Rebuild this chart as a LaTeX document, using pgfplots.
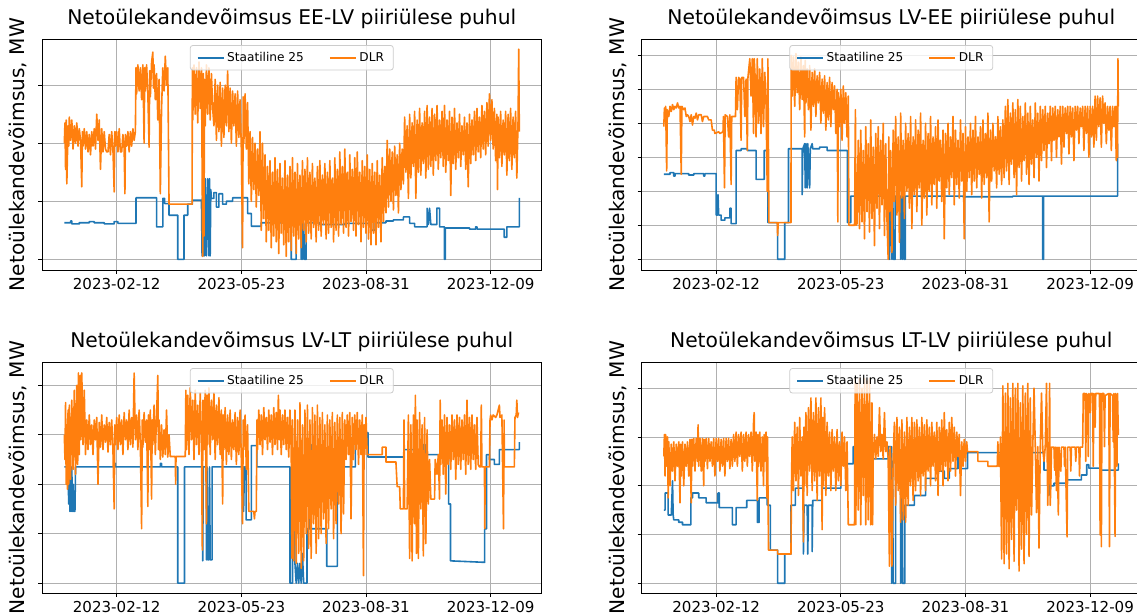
\documentclass[border=0pt]{standalone}
\usepackage{fontspec}
\setmainfont{DejaVu Sans}
\usepackage{pgfplots}
\usepackage{pgfplotstable}
\pgfplotsset{compat=1.18}

\definecolor{mplblue}{HTML}{1F77B4}
\definecolor{mplorange}{HTML}{FF7F0E}
\definecolor{gridgray}{HTML}{B0B0B0}
\definecolor{legedge}{HTML}{CCCCCC}

% x = days since 2023-01-01; y in units of the (unlabelled) y grid step

% ---------- EE-LV ----------
\pgfplotstableread[row sep=\\]{x y\\
0 0.63\\ 5 0.63\\ 5 0.66\\ 6 0.66\\ 6 0.61\\ 12 0.61\\ 12 0.63\\ 20 0.63\\ 20 0.65\\ 24 0.65\\ 24 0.63\\ 32 0.63\\ 32 0.61\\ 40 0.61\\ 40 0.65\\ 43 0.65\\ 43 0.62\\
57.5 0.62\\ 57.5 1.06\\ 74 1.06\\ 74 0.56\\ 79 0.56\\ 79 1.05\\ 80.5 1.05\\ 80.5 0.96\\ 84 0.96\\ 84 0.76\\ 91 0.76\\ 91 0\\ 96 0\\ 96 0.76\\ 99 0.76\\ 99 0.95\\
102.7 0.95\\ 102.7 1.02\\ 110 1.02\\ 110.5 0.06\\ 111 1.39\\ 111.5 0.06\\ 112 1.39\\ 112.5 0.06\\ 113 1.39\\ 114 0.06\\ 115 1.39\\ 116 0.06\\ 116.5 1.39\\ 117 0.06\\ 117.5 1.20\\
118 1.05\\ 120 1.05\\ 120 1.15\\ 122 1.15\\ 122 0.90\\ 124 0.90\\ 124 1.13\\ 127 1.13\\ 127 0.95\\ 130 0.95\\ 130 1.00\\ 135 1.00\\ 135 1.06\\ 147 1.06\\ 147 0.79\\ 150 0.79\\ 150 0.57\\ 158 0.57\\ 158 0.63\\
182 0.63\\ 182 0\\ 186 0\\ 186 0.63\\ 190 0.63\\ 190 0\\ 190.7 0.63\\ 191.3 0\\ 192 0.63\\ 192.7 0\\ 194 0\\ 194 0.63\\ 205 0.63\\ 205 0.60\\ 225 0.60\\ 225 0.62\\
246.5 0.62\\ 246.5 0.50\\ 249.4 0.50\\ 249.4 0.63\\ 258 0.63\\ 258 0.66\\ 264 0.66\\ 264 0.68\\ 272 0.68\\ 272 0.73\\ 277 0.73\\ 277 0.62\\ 281 0.62\\ 281 0.56\\
291 0.56\\ 291 0.88\\ 292 0.60\\ 293 0.88\\ 294 0.60\\ 298.8 0.60\\ 298.8 0.88\\ 301 0.88\\ 301 0.56\\ 304.9 0.56\\ 304.9 0\\ 305.6 0\\ 305.6 0.54\\
325 0.54\\ 325 0.52\\ 330 0.52\\ 330 0.56\\ 331 0.56\\ 331 0.52\\ 352.9 0.52\\ 352.9 0.38\\ 355 0.38\\ 355 0.56\\ 365 0.56\\ 365 1.06\\
}\eelvstat

\pgfplotstableread[row sep=\\]{x y\\
0 2.00\\ 0.5 2.35\\ 1 1.55\\ 1.5 2.40\\ 2 1.30\\ 3 2.30\\ 3.5 1.95\\ 4 2.45\\ 5 2.05\\ 6 2.40\\ 7 1.90\\ 8 2.30\\ 9 2.00\\ 10 2.35\\ 11 1.95\\ 12 2.25\\ 13 2.05\\ 14 1.25\\ 14.5 2.20\\
15 1.95\\ 16 2.25\\ 17 1.90\\ 18 2.20\\ 19 1.85\\ 20 2.15\\ 21 1.80\\ 22 2.20\\ 23 1.95\\ 24 2.25\\ 25 1.90\\ 26 2.50\\ 27 2.05\\ 28 2.40\\ 29 1.55\\ 30 2.25\\ 31 1.85\\ 32 2.20\\ 33 1.90\\
34 1.85\\ 35 1.85\\ 36 2.15\\ 37 1.80\\ 38 2.20\\ 39 1.90\\ 40 1.16\\ 40.5 2.20\\ 41 1.95\\ 42 2.20\\ 43 1.85\\ 44 2.25\\ 45 1.85\\ 46 1.85\\ 47 2.15\\ 48 1.90\\ 48.6 1.13\\ 49 2.15\\
50 1.95\\ 51 2.20\\ 52 1.85\\ 53 2.20\\ 54 1.95\\ 55 2.25\\ 56 2.05\\ 57 2.20\\ 57.5 3.30\\ 58 2.85\\ 59 3.35\\ 60 2.90\\ 61 3.30\\ 62 2.75\\ 63 3.35\\ 64 2.00\\ 64.5 3.30\\ 65 2.90\\ 66 3.35\\
67 2.85\\ 68 1.93\\ 68.5 3.25\\ 69 2.80\\ 70 3.40\\ 71 3.57\\ 71.5 2.95\\ 72 3.35\\ 73 2.75\\ 74 3.20\\ 75 2.40\\ 76 3.10\\ 77 1.13\\ 78 2.60\\ 79 3.30\\ 80 2.90\\ 81 3.50\\ 82 3.00\\ 83 3.30\\
84 0.95\\ 102.5 0.95\\ 102.7 3.30\\ 103 2.40\\ 104 3.35\\ 105 2.50\\ 106 3.30\\ 107 2.35\\ 108 3.40\\ 109 2.60\\ 110 3.30\\ 111 0.05\\ 111.5 3.20\\ 112 0.40\\ 112.5 3.10\\ 113 2.30\\
114 3.35\\ 115 2.50\\ 116 3.30\\ 117 2.40\\ 118 3.20\\ 119 2.60\\ 120 2.30\\ 121 3.10\\ 122 2.05\\ 123 3.00\\ 124 2.20\\ 125 3.05\\ 126 1.95\\ 127 2.95\\ 128 2.10\\ 129 3.00\\ 130 2.30\\
131 3.25\\ 132 2.20\\ 133 2.95\\ 134 2.00\\ 135 2.90\\ 136 2.30\\ 137 2.85\\ 138 1.95\\ 139 2.90\\ 140 2.10\\ 141 2.75\\ 142 1.90\\ 143 0.20\\ 143.5 2.80\\ 144 2.00\\ 145 2.85\\ 146 1.90\\
147 2.70\\ 148 1.30\\ 149 2.20\\ 150 1.00\\ 151 2.10\\ 152 1.20\\ 153 2.00\\ 154 0.90\\ 155 1.90\\ 156 1.10\\ 157 2.20\\ 158 0.50\\ 159 2.00\\ 160 0.70\\
161 1.80\\ 162 0.30\\ 163 1.60\\ 164 0.50\\ 165 1.70\\ 166 0.20\\ 167 1.50\\ 168 0.40\\ 169 1.75\\ 170 0.30\\ 171 1.55\\ 172 0.10\\ 173 1.65\\ 174 0.45\\ 175 1.40\\ 176 0.25\\ 177 1.70\\
178 0.05\\ 179 1.45\\ 180 0.30\\ 181 1.60\\ 182 0.15\\ 183 1.75\\ 184 0.40\\ 185 1.50\\ 186 0.10\\ 187 1.65\\ 188 0.35\\ 189 1.45\\ 190 0.20\\ 191 1.70\\ 192 0.50\\ 193 1.55\\ 194 0.30\\
195 1.75\\ 196 0.45\\ 197 1.50\\ 198 0.35\\ 199 1.65\\ 200 0.55\\ 201 1.40\\ 202 0.30\\ 203 1.60\\ 204 0.50\\ 205 1.70\\ 206 0.40\\ 207 1.45\\ 208 0.60\\ 209 1.65\\ 210 0.35\\ 211 1.50\\
212 0.45\\ 213 1.70\\ 214 0.55\\ 215 1.40\\ 216 0.30\\ 217 1.75\\ 218 0.50\\ 219 1.55\\ 220 0.40\\ 221 1.85\\ 222 0.60\\ 223 1.60\\ 224 0.45\\ 225 1.90\\ 226 0.55\\ 227 1.50\\ 228 0.40\\
229 1.80\\ 230 0.65\\ 231 1.55\\ 232 0.50\\ 233 1.75\\ 234 0.40\\ 235 1.85\\ 236 0.60\\ 237 1.50\\ 238 0.30\\ 239 1.70\\ 240 0.55\\ 241 1.60\\ 242 0.45\\ 243 1.80\\ 244 0.35\\ 245 1.55\\
246 0.25\\ 247 1.65\\ 248 0.45\\ 249 1.50\\ 250 0.25\\ 251 1.70\\ 252 0.55\\ 253 1.45\\ 254 0.30\\ 255 1.75\\ 256 0.65\\ 257 1.60\\ 258 0.80\\
259 2.05\\ 260 0.90\\ 261 1.90\\ 262 1.00\\ 263 1.85\\ 264 0.85\\ 265 1.95\\ 266 1.10\\ 267 1.80\\ 268 0.80\\ 269 2.00\\ 270 1.20\\ 271 1.90\\ 272 1.30\\
273 2.45\\ 274 1.50\\ 275 2.30\\ 276 1.05\\ 277 2.50\\ 278 1.40\\ 279 2.35\\ 280 1.60\\ 281 2.55\\ 282 1.05\\ 283 2.40\\ 284 1.50\\ 285 2.60\\ 286 1.45\\ 287 2.35\\ 288 1.65\\ 289 2.55\\
290 1.40\\ 291 2.65\\ 292 1.55\\ 293 2.45\\ 294 1.60\\ 295 2.60\\ 296 1.45\\ 297 2.50\\ 298 1.70\\ 299 2.65\\ 300 1.55\\ 301 2.40\\ 302 1.75\\ 303 2.55\\ 304 1.60\\ 305 2.65\\ 306 1.50\\
307 2.40\\ 308 1.70\\ 309 2.55\\ 310 1.10\\ 311 2.45\\ 312 1.65\\ 313 2.60\\ 314 1.55\\ 315 2.35\\ 316 1.75\\ 317 2.50\\ 318 1.60\\ 319 2.30\\ 320 1.80\\ 321 2.45\\ 322 1.55\\ 323 2.35\\
324 1.25\\ 325 2.50\\ 326 1.65\\ 327 2.40\\ 328 1.80\\ 329 2.55\\ 330 1.70\\ 331 2.60\\ 332 1.85\\ 333 2.45\\ 334 1.75\\ 335 2.65\\ 336 1.90\\ 337 2.55\\ 338 1.80\\ 339 2.70\\ 340 1.95\\
341 2.85\\ 342 2.05\\ 343 2.75\\ 344 1.90\\ 345 2.60\\ 346 1.70\\ 347 2.50\\ 347.5 1.20\\ 348 2.45\\ 349 1.75\\ 350 2.55\\ 351 1.60\\ 352 2.40\\ 353 1.80\\ 354 2.55\\ 355 1.45\\ 356 2.50\\
357 1.70\\ 358 2.60\\ 359 1.55\\ 360 2.45\\ 361 1.75\\ 362 2.55\\ 363 1.40\\ 364 2.40\\ 364.5 3.62\\ 365 2.20\\
}\eelvdlr

% ---------- LV-EE ----------
\pgfplotstableread[row sep=\\]{x y\\
0 2.50\\ 5 2.50\\ 5 2.55\\ 8 2.55\\ 8 2.45\\ 9 2.45\\ 9 2.52\\ 20 2.52\\ 20 2.48\\ 24 2.48\\ 24 2.52\\ 32 2.52\\ 32 2.45\\ 33 2.45\\ 33 2.52\\ 42 2.52\\
42 1.30\\ 43 1.30\\ 43.5 1.90\\ 44 1.30\\ 46 1.30\\ 46 1.15\\ 49 1.15\\ 49 1.22\\ 53 1.22\\ 53 1.50\\ 54 1.50\\ 54 1.05\\ 58 1.05\\ 58 3.20\\ 62 3.20\\ 62 3.25\\ 67 3.25\\ 67 3.20\\ 74 3.20\\
74 2.35\\ 80.6 2.35\\ 80.6 3.20\\ 83.5 3.20\\ 83.5 1.08\\ 91.3 1.08\\ 91.3 0\\ 97 0\\ 97 1.08\\ 100 1.08\\ 100 3.25\\ 111 3.25\\ 111 1.90\\ 111.5 3.25\\ 113 3.40\\ 113.5 2.10\\
114 3.40\\ 115 2.10\\ 115.5 3.40\\ 117 2.10\\ 117.5 3.25\\ 119 3.40\\ 119.5 3.25\\ 125 3.25\\ 125 3.30\\ 131 3.30\\ 131 3.20\\ 147.3 3.20\\ 147.3 1.08\\ 150 1.08\\ 150 1.86\\
181 1.86\\ 181 0\\ 182 1.86\\ 183 0\\ 183.7 1.86\\ 184.3 0\\ 185.6 0\\ 185.6 1.86\\ 190 1.86\\ 190 0\\ 191 1.86\\ 191.5 0\\ 192.3 1.86\\ 192.8 0\\ 193.7 0\\ 193.7 1.86\\
240 1.86\\ 240 1.84\\ 280 1.84\\ 280 1.86\\ 304 1.86\\ 304 0\\ 304.7 0\\ 304.7 1.86\\ 364 1.86\\ 364 3.40\\
}\lveestat

\pgfplotstableread[row sep=\\]{x y\\
0 3.90\\ 0.5 4.45\\ 1 4.30\\ 1.5 4.50\\ 2.3 2.60\\ 2.8 4.40\\ 4 4.20\\ 5 4.50\\ 6 4.35\\ 7 4.55\\ 8 4.40\\ 9 4.50\\ 10 4.45\\ 11 4.60\\ 12 4.45\\ 13 4.50\\ 14 2.50\\ 14.5 4.50\\
16 4.40\\ 17 4.45\\ 18 4.20\\ 19 4.25\\ 20 4.20\\ 21 4.05\\ 22 4.25\\ 23 3.95\\ 24 4.20\\ 25 4.15\\ 26 4.30\\ 27 4.10\\ 28 4.25\\ 30 4.25\\ 31 4.05\\ 32 4.20\\ 35 4.20\\ 36 4.10\\
38 4.10\\ 39 3.80\\ 40.5 3.80\\ 41 3.70\\ 44 3.75\\ 45 3.70\\ 47.5 3.75\\ 47.8 4.20\\ 48.7 2.10\\ 49.2 4.25\\ 51 4.20\\ 52 3.60\\ 53 4.25\\ 54 2.20\\ 54.5 4.20\\ 57.5 4.20\\
58 5.35\\ 59 4.40\\ 60 5.35\\ 61 5.30\\ 62 3.50\\ 62.5 5.35\\ 64 5.35\\ 65 4.20\\ 66 5.30\\ 67 3.20\\ 67.5 5.35\\ 69 5.90\\ 70 4.80\\ 71 5.90\\ 72 3.70\\ 72.5 5.90\\ 73.5 5.20\\
74 3.60\\ 75 5.90\\ 76 4.00\\ 77 5.60\\ 78 3.70\\ 79 5.90\\ 80 3.90\\ 81 5.50\\ 82 4.60\\ 83 2.00\\ 83.5 5.90\\ 84.3 1.08\\ 91 1.08\\ 91.3 0.70\\ 91.8 1.08\\ 102 1.08\\
102.2 6.00\\ 103 4.80\\ 104 5.95\\ 105 4.50\\ 106 6.05\\ 107 4.90\\ 108 5.80\\ 109 4.40\\ 110 5.95\\ 111 4.70\\ 112 5.70\\ 113 3.60\\ 113.5 5.85\\ 114 4.60\\ 115 5.60\\ 116 4.40\\
117 5.70\\ 118 3.80\\ 119 5.50\\ 120 4.50\\ 121 5.60\\ 122 4.20\\ 123 5.40\\ 124 4.60\\ 125 5.50\\ 126 4.00\\ 127 5.30\\ 128 4.30\\ 129 5.40\\ 130 3.80\\ 131 5.20\\ 132 4.10\\
133 5.35\\ 134 3.90\\ 135 5.20\\ 136 4.40\\ 137 5.10\\ 138 3.70\\ 139 5.00\\ 139.6 1.10\\ 140 4.90\\ 141 3.90\\ 142 5.00\\ 143 3.50\\ 144 5.10\\ 145 4.00\\ 146 4.90\\ 147 3.60\\
148 4.80\\ 148.5 1.00\\ 153 1.00\\ 153.7 4.40\\ 154.2 1.00\\ 155 1.05\\
156 3.50\\ 157 0.90\\ 158 3.80\\ 159 1.10\\ 160 3.20\\ 161 0.60\\ 162 3.90\\ 163 1.40\\ 164 3.40\\ 165 0.80\\ 166 4.10\\ 167 1.20\\ 168 3.30\\ 169 0.40\\ 170 3.70\\ 171 1.50\\
172 3.90\\ 173 0.90\\ 174 3.50\\ 175 1.60\\ 176 4.00\\ 177 0.70\\ 178 3.40\\ 179 1.20\\ 180 0.00\\ 180.5 3.60\\ 181 1.40\\ 182 3.20\\ 183 0.20\\ 184 3.80\\ 185 1.70\\ 186 4.20\\
187 1.30\\ 188 3.60\\ 189 0.50\\ 190 4.30\\ 191 1.80\\ 192 3.50\\ 193 1.20\\ 194 4.00\\ 195 2.00\\ 196 3.70\\ 197 1.50\\ 198 4.20\\ 199 0.90\\ 200 3.60\\ 201 1.90\\ 202 4.10\\
203 1.40\\ 204 3.80\\ 205 2.10\\ 206 4.30\\ 207 1.00\\ 208 3.50\\ 209 1.80\\ 210 4.00\\ 211 1.30\\ 212 3.70\\ 213 2.00\\ 214 4.20\\ 215 1.60\\ 216 3.60\\ 217 2.20\\ 218 3.90\\
219 1.50\\ 220 4.10\\ 221 2.30\\ 222 3.50\\ 223 1.70\\ 224 3.80\\ 225 0.60\\ 226 3.70\\ 227 2.10\\ 228 4.00\\ 229 1.90\\ 230 3.60\\ 231 2.40\\ 232 4.20\\ 233 1.60\\ 234 3.80\\
235 2.20\\ 236 3.50\\ 237 1.80\\ 238 4.10\\ 239 2.30\\ 240 3.70\\ 241 0.60\\ 242 3.90\\ 243 2.00\\ 244 3.60\\ 245 2.40\\ 246 4.00\\ 247 1.90\\ 248 3.80\\ 249 2.30\\ 250 4.20\\
251 2.10\\ 252 3.60\\ 253 2.50\\ 254 3.90\\ 255 1.80\\ 256 4.10\\ 257 2.20\\ 258 3.70\\ 259 2.40\\ 260 4.30\\ 261 1.10\\ 262 3.80\\ 263 2.30\\ 264 4.00\\ 265 2.60\\ 266 3.60\\
267 2.10\\ 268 4.20\\ 269 2.50\\ 270 3.90\\ 271 2.20\\ 272 4.10\\
273 2.40\\ 274 4.50\\ 275 2.60\\ 276 4.70\\ 277 2.20\\ 278 4.30\\ 279 2.80\\ 280 4.60\\ 281 2.40\\ 282 4.40\\ 283 1.90\\ 284 4.70\\ 285 2.70\\ 286 4.50\\ 287 2.30\\ 288 4.20\\
289 2.90\\ 290 4.60\\ 291 2.50\\ 292 4.30\\ 293 2.20\\ 294 4.50\\ 295 2.80\\ 296 4.10\\ 297 2.40\\ 298 4.60\\ 299 3.00\\ 300 4.30\\ 301 2.30\\ 302 4.50\\
303 2.90\\ 304 4.40\\ 305 3.20\\ 306 4.50\\ 307 2.70\\ 308 4.30\\ 309 3.40\\ 310 4.50\\ 311 2.90\\ 312 4.45\\ 313 3.50\\ 314 4.50\\ 315 3.00\\ 316 4.40\\ 317 3.60\\ 318 4.50\\
319 2.80\\ 320 4.50\\ 321 3.30\\ 322 4.45\\ 323 3.70\\ 324 4.50\\ 325 3.10\\ 326 4.50\\ 327 3.60\\ 328 4.45\\ 329 2.90\\ 330 4.50\\ 331 3.80\\ 332 4.50\\ 333 3.40\\ 334 4.45\\
335 3.90\\ 336 4.50\\ 337 3.20\\ 338 4.50\\ 339 3.70\\ 340 4.50\\ 341 3.00\\ 342 4.50\\ 343 3.60\\ 344 4.50\\ 345 3.30\\ 346 4.80\\
347 3.50\\ 348 4.80\\ 349 3.90\\ 350 4.75\\ 351 3.30\\ 352 4.80\\ 353 4.00\\ 354 4.60\\ 355 3.40\\ 356 4.50\\ 357 3.80\\ 358 4.50\\ 359 3.20\\ 360 4.50\\ 361 3.90\\ 362 4.50\\
363 2.90\\ 363.5 4.50\\ 364 3.00\\ 364.3 5.90\\ 364.6 4.50\\
}\lveedlr

% ---------- LV-LT ----------
\pgfplotstableread[row sep=\\]{x y\\
0 2.35\\ 3 2.35\\ 3.5 1.60\\ 4 2.35\\ 4.5 1.45\\ 5 2.30\\ 5.5 1.45\\ 6 2.35\\ 6.5 1.45\\ 7 2.00\\ 7.5 1.45\\ 8.5 1.45\\ 9 2.35\\ 40 2.35\\ 40 2.42\\ 41 2.42\\ 41 2.35\\
77 2.35\\ 77 2.42\\ 78 2.42\\ 78 2.35\\ 91 2.35\\ 91 0\\ 96.4 0\\ 96.4 2.35\\ 111 2.35\\ 111 0.45\\ 111.5 2.35\\ 114 2.35\\ 114 0.47\\ 114.5 2.35\\ 115 0.47\\ 116 0.47\\
116.5 2.35\\ 117 0.47\\ 118.5 0.47\\ 118.5 2.35\\ 143.8 2.35\\ 143.8 1.45\\ 144.5 2.35\\ 145.8 2.35\\ 145.8 1.28\\ 150 1.28\\ 150 2.78\\ 154.5 2.78\\ 154.5 2.35\\
181 2.35\\ 181 0\\ 183 0\\ 183 2.35\\ 185 2.35\\ 185 0.40\\ 186 0\\ 187 0.40\\ 188 0\\ 189 0.40\\ 190 0\\ 191 0.60\\ 192 0\\ 194.7 0\\ 194.7 1.10\\ 197 1.10\\ 197 2.80\\ 198 2.80\\
198 1.10\\ 210.5 1.10\\ 210.5 0.34\\ 219 0.34\\ 219 2.35\\ 233.5 2.35\\ 233.5 3.04\\ 243.6 3.04\\ 243.6 2.55\\ 272.4 2.55\\ 272.4 2.70\\ 288 2.70\\ 288 2.80\\ 289.6 2.80\\
289.6 2.60\\ 308.3 2.60\\ 308.3 1.60\\ 309.8 1.60\\ 309.8 0.45\\ 337.2 0.42\\ 337.2 1.10\\ 338.7 1.10\\ 338.7 2.60\\ 341 2.60\\ 341 2.50\\ 345 2.50\\ 345 2.40\\ 349 2.40\\
349 2.70\\ 365 2.70\\ 365 2.85\\
}\lvltstat

\pgfplotstableread[row sep=\\]{x y\\
0 3.00\\ 0.5 2.50\\ 1 3.65\\ 1.5 2.00\\ 2 3.20\\ 2.5 1.90\\ 3 3.50\\ 3.5 2.00\\ 4 3.60\\ 5 2.10\\ 6 3.70\\ 7 2.30\\ 8 3.90\\ 9 2.20\\ 10 4.00\\ 10.7 2.40\\ 11.3 4.25\\
12 2.60\\ 12.7 4.20\\ 13.3 2.90\\ 14 4.25\\ 15 2.80\\ 16 3.90\\
17 2.60\\ 18 3.30\\ 19 2.70\\ 20 3.40\\ 21 2.80\\ 22 3.20\\ 23 2.60\\ 24 3.30\\ 25 2.90\\ 26 3.35\\ 27 2.00\\ 28 3.25\\ 29 2.75\\ 30 3.40\\ 31 2.70\\ 32 3.20\\ 33 2.85\\
34 3.35\\ 35 2.65\\ 36 3.25\\ 37 2.80\\ 38 3.30\\ 39 2.70\\ 40 1.50\\ 40.5 3.20\\ 41 2.80\\ 42 3.35\\
43 2.70\\ 44 3.40\\ 45 2.80\\ 46 3.30\\ 47 2.60\\ 48 3.45\\ 49 2.90\\ 50 3.30\\ 51 2.70\\ 52 3.50\\ 53 2.80\\ 54 3.35\\ 55 2.75\\ 56 4.25\\ 57 2.90\\ 58 3.40\\ 59 2.70\\
60 3.50\\ 61 2.80\\ 62 1.10\\ 62.5 3.30\\ 63 2.75\\ 64 3.45\\ 65 2.85\\ 66 3.30\\ 67 1.55\\ 67.5 3.40\\ 68 2.70\\ 69 3.50\\ 70 1.70\\ 70.5 3.30\\ 71 2.80\\ 72 3.60\\ 73 2.60\\
74 3.40\\ 75 4.20\\ 75.5 2.70\\ 76 3.30\\ 77 2.50\\
78 3.20\\ 79 2.55\\ 80 3.10\\ 81 2.60\\ 82 3.50\\ 83 2.55\\ 84 3.00\\ 85 2.56\\ 89 2.56\\ 89.3 2.00\\ 89.6 2.56\\ 97 2.56\\
97.5 3.90\\ 98 2.70\\ 99 3.80\\ 100 2.60\\ 101 3.95\\ 102 2.90\\ 103 3.70\\ 104 2.50\\ 105 3.90\\ 106 2.80\\ 107 3.60\\ 108 2.60\\ 109 3.85\\ 110 2.90\\ 110.7 0.67\\
111.2 3.70\\ 112 2.70\\ 113 3.90\\ 114 1.20\\ 114.5 3.80\\ 115 2.80\\ 116 3.95\\ 117 2.60\\ 118 3.70\\ 119 2.90\\ 120 3.85\\ 121 2.50\\ 122 3.60\\ 123 2.80\\ 124 3.75\\
125 2.60\\ 126 3.50\\ 127 1.60\\ 127.5 3.40\\ 128 2.70\\ 129 3.55\\ 130 2.40\\ 131 3.40\\
132 2.60\\ 133 3.50\\ 134 2.50\\ 135 3.30\\ 136 2.70\\ 137 3.45\\ 138 2.40\\ 139 3.35\\ 140 2.60\\ 141 3.50\\ 142 2.50\\ 143 1.20\\ 143.5 3.30\\ 144 2.70\\ 145 3.40\\
146 2.30\\ 147 3.20\\ 148 1.45\\ 152 1.45\\ 152.5 1.30\\ 153 1.45\\ 154 1.45\\
154.5 3.30\\ 155 2.70\\ 156 3.50\\ 157 2.80\\ 158 3.40\\ 159 2.60\\ 160 3.55\\ 161 2.90\\ 162 3.35\\ 163 2.70\\ 164 3.50\\ 165 2.85\\ 166 3.40\\ 167 2.60\\ 168 3.55\\
169 2.80\\ 170 3.45\\ 171 2.70\\ 171.7 3.80\\ 172.5 2.90\\ 173 3.50\\ 174 2.60\\ 175 3.40\\ 176 2.80\\ 177 3.50\\ 178 2.70\\ 179 3.35\\ 180 2.55\\ 181 3.50\\ 182 2.70\\
182.6 0.50\\ 183 3.30\\
184 0.45\\ 185 3.50\\ 186 0.40\\ 187 3.30\\ 188 0.60\\ 189 3.65\\ 190 0.30\\ 191 3.20\\ 192 0.45\\ 193 3.50\\ 194 1.00\\ 195 3.60\\ 196 0.70\\ 197 3.30\\ 198 0.50\\
199 3.55\\ 200 1.20\\ 201 3.40\\ 202 0.60\\ 203 3.60\\ 204 0.90\\ 205 3.35\\
206 1.00\\ 207 3.45\\ 208 1.30\\ 209 3.20\\ 210 0.80\\ 211 3.40\\ 212 1.10\\ 213 3.30\\ 214 1.50\\ 215 3.45\\ 216 0.90\\ 217 3.25\\ 218 1.20\\ 219 3.40\\ 220 1.60\\
221 3.35\\ 222 1.00\\ 223 3.45\\ 224 1.40\\ 225 3.30\\
226 2.50\\ 227 3.40\\ 228 2.60\\ 229 3.45\\ 230 1.30\\ 231 3.35\\ 232 2.50\\ 233 3.40\\ 234 2.70\\ 235 3.45\\ 236 2.40\\ 237 3.30\\ 238 2.60\\ 239 3.40\\ 240 0.15\\
240.5 3.20\\ 241 2.60\\ 242 3.35\\ 243 2.60\\ 255 2.60\\ 255 2.75\\ 258 2.75\\ 258 2.45\\ 266 2.45\\ 267 1.95\\ 269 1.95\\ 269.5 1.50\\ 272 1.50\\ 272.5 3.30\\ 273 1.50\\ 275 1.50\\
276 3.40\\ 277 0.50\\ 278 3.20\\ 279 0.45\\ 280 3.40\\ 281 1.20\\ 281.6 3.80\\ 282.5 0.60\\ 283 3.30\\ 284 0.50\\ 285 3.45\\ 286 1.50\\ 287 3.20\\ 288 0.55\\ 289 3.35\\
290 0.80\\ 291 3.10\\ 292 1.60\\ 293 2.50\\ 294 1.70\\ 297 1.70\\ 297.5 2.50\\ 299 2.20\\ 300 2.60\\ 301 1.70\\
301.5 3.70\\ 302 2.40\\ 303 3.30\\ 304 2.20\\ 305 3.40\\ 306 1.80\\ 307 3.35\\ 308 2.40\\ 309 3.20\\ 310 2.30\\ 311 3.40\\ 312 2.50\\ 313 3.30\\ 314 2.10\\ 315 3.40\\
316 2.40\\ 317 3.35\\ 318 2.30\\ 319 3.30\\ 320 2.50\\ 321 3.40\\ 322 2.20\\ 323 3.70\\ 324 2.40\\ 325 3.35\\ 326 2.30\\ 327 3.40\\ 328 2.50\\ 329 3.20\\ 330 2.30\\
331 3.35\\ 332 2.40\\ 333 2.35\\ 334 2.35\\ 334.5 3.60\\ 335 2.35\\ 337 2.35\\ 337.3 1.10\\ 337.6 2.35\\ 341 2.35\\
341.5 3.30\\ 342 3.40\\ 343 3.30\\ 344 3.40\\ 346 3.35\\ 347 3.40\\ 349 3.60\\ 349.5 3.35\\ 351 3.40\\ 352.3 1.10\\ 352.8 3.30\\ 353 2.35\\
361 2.35\\ 361.5 3.35\\ 362.5 3.40\\ 363 3.70\\ 363.5 3.35\\ 364.4 3.45\\
}\lvltdlr

% ---------- LT-LV ----------
\pgfplotstableread[row sep=\\]{x y\\
0 1.50\\ 1 1.50\\ 1 1.85\\ 3.5 1.85\\ 3.5 1.40\\ 6 1.40\\ 7 2.10\\ 7.5 1.40\\ 8 1.30\\ 12 1.30\\ 12 1.25\\ 15 1.25\\ 15 1.20\\ 21.7 1.20\\ 21.7 1.75\\ 23 1.75\\ 23 1.85\\
28 1.85\\ 28 1.75\\ 34 1.75\\ 34 1.65\\ 43.5 1.65\\ 43.5 1.85\\ 44.5 1.85\\ 44.5 1.55\\ 55 1.55\\ 55 1.20\\ 58 1.20\\ 58 1.55\\ 66.5 1.55\\ 66.5 1.70\\ 75 1.70\\ 75 1.25\\
76.5 1.25\\ 76.5 1.75\\ 83 1.75\\ 83 1.60\\ 85.5 1.60\\ 85.5 0.68\\ 91.3 0.68\\ 91.3 0\\ 97 0\\ 97 0.60\\ 102 0.60\\ 102 1.60\\ 105.6 1.60\\ 105.6 1.95\\ 112 1.95\\
112 0.60\\ 112.5 1.60\\ 115 1.60\\ 115.5 0.60\\ 116 1.60\\ 119 1.60\\ 119 0.65\\ 119.5 1.70\\ 127 1.70\\ 127 1.95\\ 142 1.95\\ 142 2.45\\ 152 2.45\\ 152 2.80\\ 153 2.80\\
153 2.55\\ 180 2.55\\ 180 2.80\\ 182.7 2.80\\ 182.7 0\\ 183.5 2.50\\ 184 0\\ 186 0\\ 186 2.50\\ 190 2.50\\ 190 0\\ 191 2.50\\ 191.5 0\\ 193.3 0\\ 193.3 1.60\\ 201 1.60\\
201 1.80\\ 210 1.80\\ 210 2.15\\ 220 2.15\\ 220 2.30\\ 225 2.30\\ 225 2.15\\ 229 2.15\\ 229 2.35\\ 236 2.35\\ 236 2.60\\ 237 2.60\\ 237 2.35\\ 243.6 2.35\\ 243.6 2.68\\
272 2.68\\ 272 2.32\\ 293.8 2.32\\ 293.8 2.68\\ 305 2.68\\ 305 2.32\\ 309.3 2.32\\ 309.3 1.81\\ 309.8 2.00\\ 313 2.00\\ 313 2.05\\ 323 2.05\\ 323 2.12\\ 335 2.12\\
335 2.22\\ 339.3 2.22\\ 339.3 2.43\\ 341 2.43\\ 341 2.36\\ 350 2.36\\ 350 2.32\\ 364.6 2.32\\ 364.6 2.46\\
}\ltlvstat

\pgfplotstableread[row sep=\\]{x y\\
0 2.60\\ 0.5 3.05\\ 1 2.20\\ 1.5 3.05\\ 2 2.40\\ 3 3.00\\ 3.5 1.75\\ 4 2.90\\ 5 2.00\\ 6 2.85\\ 7 2.30\\ 8 2.90\\ 9 2.10\\ 10 2.85\\ 11 2.40\\ 12 2.90\\ 13 1.65\\ 13.5 2.85\\
14 2.20\\ 15 2.90\\ 16 2.00\\ 17 2.85\\ 18 2.40\\ 19 2.90\\ 20 2.20\\
21 2.95\\ 22 1.65\\ 22.5 2.95\\ 23 2.40\\ 24 2.97\\ 25 2.30\\ 26 2.97\\ 27 2.50\\ 27.5 3.25\\ 28 2.40\\ 29 2.97\\ 30 2.30\\ 31 2.97\\ 32 2.00\\ 32.5 2.95\\ 33 2.50\\
34 2.97\\ 35 2.35\\ 36 2.97\\ 37 2.50\\ 38 2.90\\ 39 2.40\\ 40 2.97\\ 41 2.20\\ 42 2.97\\ 43 2.50\\ 44 2.97\\ 45 2.30\\ 46 2.95\\ 47 2.40\\ 48 2.97\\ 49 2.20\\ 50 2.97\\
51 2.50\\ 52 2.97\\ 53 2.35\\ 54 2.95\\ 55 2.40\\
56 3.05\\ 57 2.50\\ 58 3.10\\ 59 2.40\\ 60 3.05\\ 61 2.60\\ 62 3.10\\ 63 2.30\\ 64 3.05\\ 65 2.50\\ 66 3.10\\ 67 2.40\\ 68 3.05\\ 69 2.60\\ 70 3.10\\ 71 2.30\\ 72 3.30\\
72.5 3.50\\ 73 2.50\\ 74 3.10\\ 75 1.70\\ 75.5 3.05\\ 76 2.40\\ 77 3.10\\ 78 2.30\\ 79 3.00\\ 80 2.00\\ 80.5 3.05\\ 81 2.50\\ 82 3.10\\ 82.7 1.75\\ 83.2 3.00\\ 84 0.68\\
91.3 0.68\\ 91.3 0.60\\ 102 0.60\\
102.5 2.20\\ 103 3.00\\ 104 1.90\\ 105 3.30\\ 106 2.10\\ 107 3.20\\ 108 1.80\\ 109 3.40\\ 110 2.20\\ 111 3.00\\ 112 0.85\\ 112.5 3.20\\ 113 2.00\\ 114 3.50\\ 115 1.80\\
116 3.60\\ 117 2.30\\ 118 3.80\\ 119 1.90\\ 120 3.50\\ 121 2.10\\ 122 3.80\\ 123 1.70\\ 124 3.60\\ 125 2.20\\ 126 3.80\\ 127 1.10\\ 127.5 3.40\\ 128 2.00\\ 129 3.60\\
130 1.80\\ 131 3.30\\ 132 2.20\\ 133 3.10\\ 134 1.90\\ 135 3.15\\ 136 2.30\\ 137 3.00\\ 138 1.90\\ 139 3.15\\ 140 2.10\\ 141 2.90\\ 142 2.00\\ 143 3.10\\ 144 2.40\\
145 3.00\\ 146 1.90\\ 147 2.90\\ 148 1.20\\
153 1.20\\ 153.5 4.20\\ 154 1.20\\ 155 4.10\\ 156 1.50\\ 157 4.20\\ 158 1.20\\ 159 4.00\\ 160 1.80\\ 161 4.20\\ 162 1.20\\ 163 4.15\\ 164 1.30\\ 165 4.20\\ 166 1.20\\
167 3.70\\ 167.5 1.20\\ 168 2.60\\
169 3.05\\ 170 2.55\\ 171 3.00\\ 172 2.60\\ 173 3.60\\ 174 2.70\\ 175 3.05\\ 176 2.55\\ 177 3.50\\ 178 2.70\\ 179 2.90\\ 180 2.55\\ 181 0.35\\ 181.5 2.80\\ 182 2.60\\
183 0.35\\ 184 2.60\\
185 3.30\\ 186 1.60\\ 187 3.40\\ 188 1.90\\ 189 3.20\\ 190 1.25\\ 191 3.35\\ 192 1.30\\ 193 3.10\\ 194 1.25\\ 195 3.40\\ 196 1.60\\ 197 3.20\\ 198 2.00\\ 199 3.40\\
200 1.70\\ 201 3.30\\ 202 1.90\\ 203 3.35\\ 204 2.10\\ 205 3.20\\ 206 1.80\\ 207 3.40\\ 208 2.20\\ 209 3.25\\ 210 1.90\\ 211 3.35\\ 212 2.30\\ 213 3.20\\ 214 2.00\\
215 3.30\\ 216 2.40\\ 217 3.10\\ 218 2.10\\ 219 3.30\\ 220 1.80\\ 221 3.20\\ 222 2.30\\ 223 3.35\\ 224 2.00\\ 225 3.50\\ 226 2.40\\ 227 3.15\\ 228 2.10\\ 229 3.30\\
230 2.30\\ 231 3.40\\ 232 2.50\\ 233 3.20\\ 234 2.20\\ 235 3.10\\ 236 2.60\\ 237 3.05\\ 238 1.80\\ 239 2.90\\ 240 2.40\\ 241 2.95\\ 242 2.50\\ 243 2.90\\
243.6 2.70\\ 252 2.70\\ 252 2.50\\ 260 2.50\\ 260 2.40\\ 267.5 2.40\\ 268 2.90\\ 268.5 2.40\\ 269.7 2.40\\
270 3.00\\ 271 0.50\\ 272 4.05\\ 273 0.40\\ 274 3.90\\ 275 0.60\\ 276 4.10\\ 277 0.30\\ 278 3.80\\ 279 0.90\\ 280 4.10\\ 281 0.45\\ 282 4.00\\ 283 1.50\\ 284 4.10\\
285 0.25\\ 286 3.70\\ 287 0.70\\ 288 4.05\\ 289 0.40\\ 290 3.90\\ 291 1.00\\ 292 4.10\\ 293 0.55\\ 294 3.80\\ 295 1.40\\
296 2.80\\ 297 4.00\\ 298 2.80\\ 299 1.45\\ 300 2.80\\ 301 0.72\\ 302 2.80\\ 303 3.90\\ 304 2.75\\ 305 2.50\\ 306 2.80\\ 307 4.10\\ 307.5 2.80\\ 308 1.60\\ 309 2.80\\
309.5 4.10\\ 310 1.60\\ 310.5 2.05\\ 311 2.79\\ 313 2.79\\ 313.5 2.32\\ 314 2.79\\ 315 1.90\\ 315.5 2.79\\ 316.5 1.40\\ 317 2.79\\ 318.5 2.30\\ 319 2.79\\ 321 2.79\\
321.5 2.40\\ 322 2.79\\ 323.5 0.95\\ 324 2.79\\ 326 2.79\\ 326.5 2.30\\ 327 2.79\\ 330 2.79\\ 330.5 2.50\\ 331 2.79\\ 333 2.79\\ 333.5 2.20\\ 334 2.79\\ 336 2.79\\
336.5 3.89\\ 338 3.89\\ 338.5 2.50\\ 339 3.89\\ 340 3.85\\ 340.5 2.60\\ 341 3.89\\ 342 3.50\\ 342.5 3.89\\ 344 3.89\\ 344.5 2.40\\ 345 3.89\\ 346 3.20\\ 346.5 3.89\\
349.5 3.89\\ 350 0.99\\ 350.5 3.89\\ 351 0.75\\ 351.5 3.89\\ 353 3.89\\ 353.5 2.80\\ 354 3.85\\ 357 3.89\\ 357.5 0.75\\ 358 3.89\\ 360 3.85\\ 360.5 2.90\\ 361 3.89\\
362 0.96\\ 362.5 3.89\\ 363.5 2.40\\ 364 3.89\\ 364.6 3.04\\
}\ltlvdlr

\pgfplotsset{
  panel/.style={
    scale only axis,
    width=374.25pt, height=173pt,
    anchor=south west,
    xmin=-17.7, xmax=382.6,
    xtick={42,142,242,342},
    xticklabels={2023-02-12,2023-05-23,2023-08-31,2023-12-09},
    yticklabels={},
    xtick pos=left, ytick pos=left,
    tick align=outside,
    major tick length=3pt,
    tick style={black, line width=0.6pt},
    grid=major,
    major grid style={gridgray, line width=0.6pt},
    axis line style={black, line width=0.6pt},
    tick label style={font=\fontsize{11.3}{13}\selectfont},
    title style={font=\fontsize{15.2}{18}\selectfont, at={(axis description cs:0.5,1)}, anchor=base, yshift=5pt},
    ylabel={Netoülekandevõimsus, MW},
    ylabel style={font=\fontsize{15.1}{18}\selectfont, at={(axis description cs:-0.021,0.5)}, anchor=south},
    legend columns=2,
    legend cell align=left,
    legend image code/.code={\draw[#1, line width=1.2pt] (0pt,0pt) -- (19.5pt,0pt);},
    legend style={
      at={(axis description cs:0.5,1)}, anchor=north, yshift=-4.3pt,
      draw=legedge, line width=0.6pt, fill=white, fill opacity=0.8, text opacity=1,
      rounded corners=2pt, font=\fontsize{9.1}{11}\selectfont,
      inner xsep=5pt, inner ysep=3pt,
      /tikz/every even column/.append style={column sep=17pt},
    },
  },
  stat/.style={mplblue, line width=1.2pt, line join=round, no markers},
  dlr/.style={mplorange, line width=1.2pt, line join=round, no markers},
}

\begin{document}
\begin{tikzpicture}
\path[use as bounding box] (0pt,0pt) rectangle (852.75pt,460.5pt);
\clip (0pt,0pt) rectangle (852.75pt,460.5pt);

\begin{axis}[panel, at={(31.7pt,258pt)}, ymin=-0.184, ymax=3.79, ytick={0,1,2,3},
  title={Netoülekandevõimsus EE-LV piiriülese puhul}]
  \addplot[stat] table {\eelvstat};
  \addplot[dlr] table {\eelvdlr};
  \legend{Staatiline 25, DLR}
\end{axis}

\begin{axis}[panel, at={(481.3pt,258pt)}, ymin=-0.315, ymax=6.47, ytick={0,1,2,3,4,5,6},
  title={Netoülekandevõimsus LV-EE piiriülese puhul}]
  \addplot[stat] table {\lveestat};
  \addplot[dlr] table {\lveedlr};
  \legend{Staatiline 25, DLR}
\end{axis}

\begin{axis}[panel, at={(31.7pt,15.75pt)}, ymin=-0.2, ymax=4.465, ytick={0,1,2,3,4},
  title={Netoülekandevõimsus LV-LT piiriülese puhul}]
  \addplot[stat] table {\lvltstat};
  \addplot[dlr] table {\lvltdlr};
  \legend{Staatiline 25, DLR}
\end{axis}

\begin{axis}[panel, at={(481.3pt,15.75pt)}, ymin=-0.2, ymax=4.53, ytick={0,1,2,3,4},
  title={Netoülekandevõimsus LT-LV piiriülese puhul}]
  \addplot[stat] table {\ltlvstat};
  \addplot[dlr] table {\ltlvdlr};
  \legend{Staatiline 25, DLR}
\end{axis}
\end{tikzpicture}
\end{document}
